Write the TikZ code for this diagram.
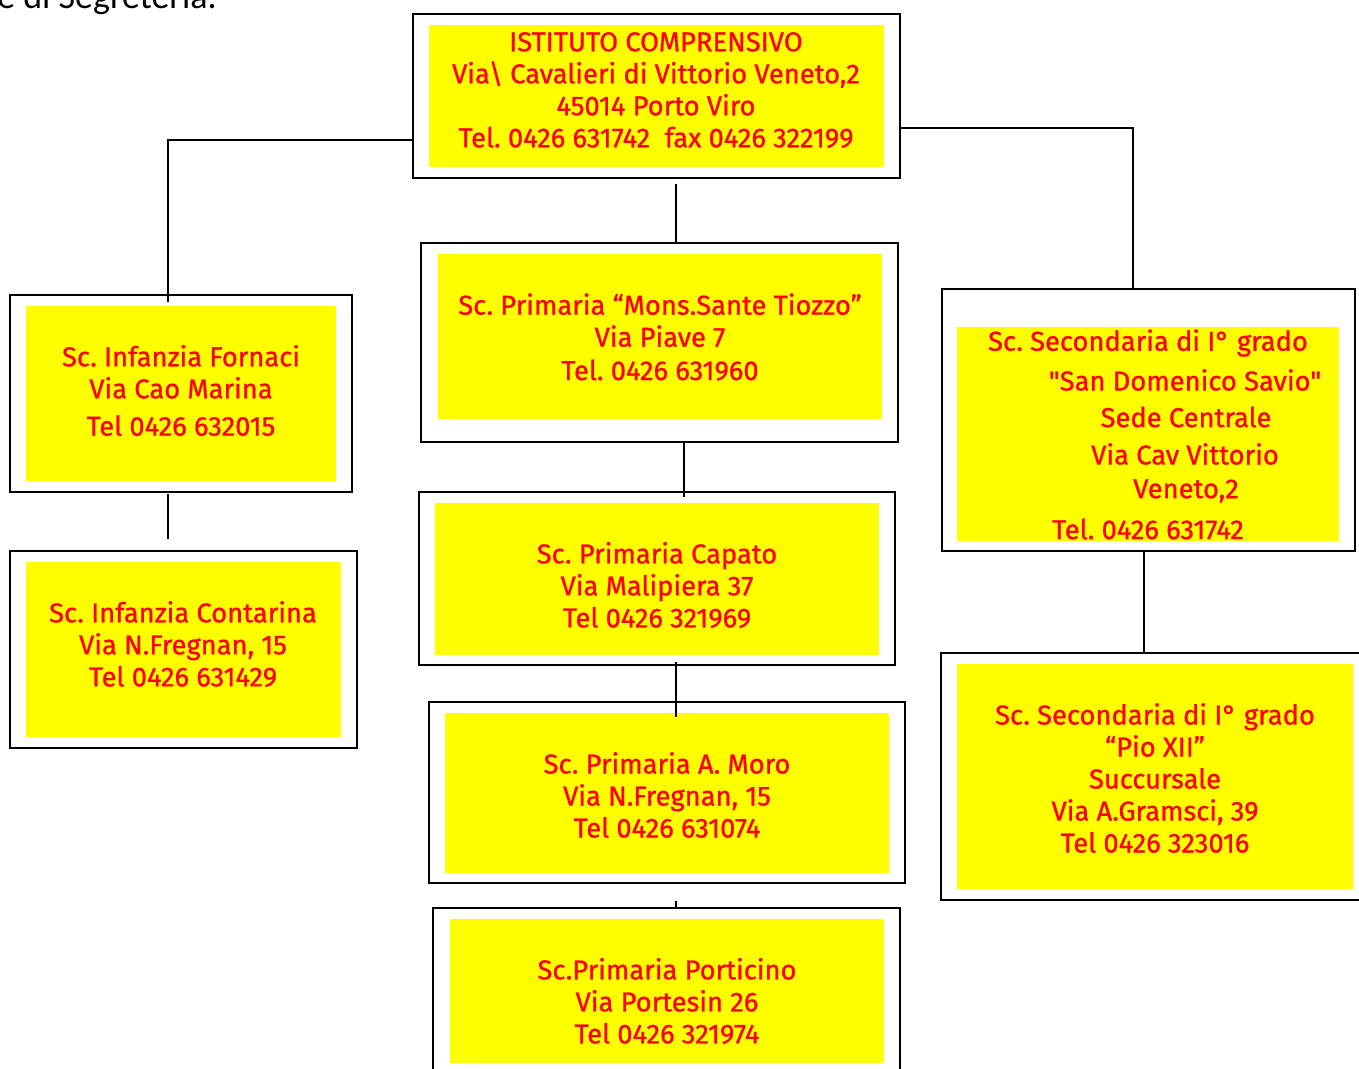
\documentclass[tikz,border=0pt]{standalone}
\usepackage{fontspec}
\setmainfont{Fira Sans}
\newfontfamily\labelfont{Fira Sans}[FakeBold=0.9]
\newfontfamily\bodyfont{Carlito}
\usetikzlibrary{fit}
\definecolor{padyellow}{RGB}{255,255,0}
\definecolor{labelred}{RGB}{255,0,0}
\frenchspacing
\tikzset{
  frame/.style={draw,line width=1.4pt,inner sep=0pt},
  pad/.style={fill=padyellow,inner sep=0pt},
  txt/.style={text=labelred,align=center,inner sep=0pt,font=\labelfont\fontsize{20.5}{24}\selectfont},
  link/.style={line width=1.1pt}
}
\begin{document}
\begin{tikzpicture}[x=0.75pt,y=-0.75pt]
\useasboundingbox (0,0) rectangle (1359,1068);
\node[anchor=base west,inner sep=0pt,font=\bodyfont\fontsize{27}{30}\selectfont] (seg) at (-3,8) {e di Segreteria.};
% frames and yellow pads
\node[frame,fit={(413,14) (900,178)}] (top) {};
\node[pad,fit={(429,25) (884,167)}] (top-y) {};
\node[frame,fit={(10,295) (352,492)}] (fornaci) {};
\node[pad,fit={(26,306) (336,481)}] (fornaci-y) {};
\node[frame,fit={(10,551) (357,748)}] (contarina) {};
\node[pad,fit={(26,562) (341,737)}] (contarina-y) {};
\node[frame,fit={(421,243) (898,442)}] (mons) {};
\node[pad,fit={(438,254) (882,419)}] (mons-y) {};
\node[frame,fit={(419,492) (895,665)}] (capato) {};
\node[pad,fit={(435,503) (879,655)}] (capato-y) {};
\node[frame,fit={(429,702) (905,883)}] (moro) {};
\node[pad,fit={(445,713) (889,873)}] (moro-y) {};
\node[frame,fit={(433,908) (900,1080)}] (porticino) {};
\node[pad,fit={(450,919) (884,1063)}] (porticino-y) {};
\node[frame,fit={(942,289) (1355,551)}] (savio) {};
\node[pad,fit={(957,327) (1339,541)}] (savio-y) {};
\node[frame,fit={(941,653) (1365,900)}] (pio) {};
\node[pad,fit={(957,664) (1353,889)}] (pio-y) {};
% texts
\node[txt] (top-t) at (656,90) {ISTITUTO COMPRENSIVO\\Via\textbackslash\ Cavalieri di Vittorio Veneto,2\\45014 Porto Viro\\Tel. 0426 631742\ \ fax 0426 322199};
\node[txt] (fornaci-t) at (181,390.5) {Sc. Infanzia Fornaci\\Via Cao Marina\\[4pt]Tel 0426 632015};
\node[txt] (contarina-t) at (183,644) {Sc. Infanzia Contarina\\Via N.Fregnan, 15\\Tel 0426 631429};
\node[txt] (mons-t) at (660,337) {Sc. Primaria “Mons.Sante Tiozzo”\\Via Piave 7\\[1pt]Tel. 0426 631960};
\node[txt] (capato-t) at (657,585) {Sc. Primaria Capato\\Via Malipiera 37\\Tel 0426 321969};
\node[txt] (moro-t) at (667,795) {Sc. Primaria A. Moro\\Via N.Fregnan, 15\\Tel 0426 631074};
\node[txt] (porticino-t) at (667,1001) {Sc.Primaria Porticino\\Via Portesin 26\\Tel 0426 321974};
\node[txt] (pio-t) at (1155,778) {Sc. Secondaria di I° grado\\“Pio XII”\\Succursale\\Via A.Gramsci, 39\\Tel 0426 323016};
\foreach \i/\x/\y/\t in {1/1148/343/{Sc. Secondaria di I° grado},2/1185/380/{"San Domenico Savio"},
  3/1186/417/{Sede Centrale},4/1185/454/{Via Cav Vittorio},5/1186/491/{Veneto,2},6/1148/529/{Tel. 0426 631742}}
  \node[txt] (savio-t\i) at (\x,\y) {\t};
% connectors
\draw[link] (top.west) ++(0,44) -| ([shift={(-13,8)}]fornaci.north);
\draw[link] (top.east) ++(0,32) -| ([shift={(-15.5,0)}]savio.north);
\draw[link] ([shift={(19.5,5)}]top.south) -- ([shift={(16.5,0)}]mons.north);
\draw[link] ([shift={(24.5,0)}]mons.south) -- ([shift={(27,6)}]capato.north);
\draw[link] ([shift={(-13,1)}]fornaci.south) -- ([shift={(-15.5,-11)}]contarina.north);
\draw[link] ([shift={(19,-4)}]capato.south) -- ([shift={(9,16)}]moro.north);
\draw[link] ([shift={(9,17)}]moro.south) -- ([shift={(9.5,0)}]porticino.north);
\draw[link] ([shift={(-4.5,0)}]savio.south) -- ([shift={(-9,2)}]pio.north);
\end{tikzpicture}
\end{document}
